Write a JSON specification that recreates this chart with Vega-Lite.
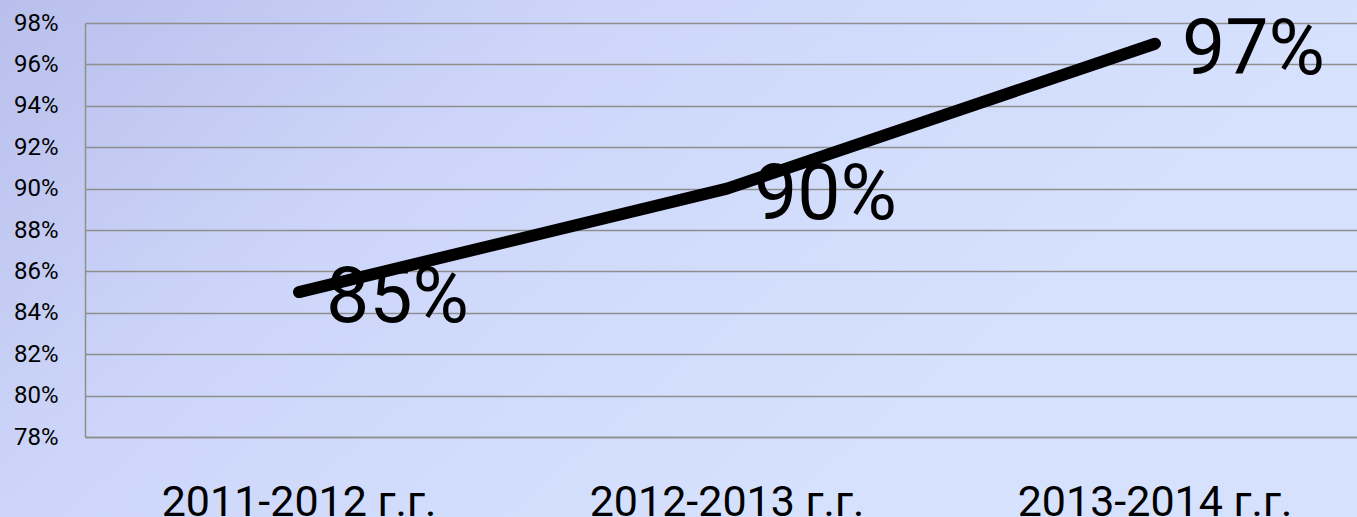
{
  "$schema": "https://vega.github.io/schema/vega-lite/v6.json",
  "width": 1357,
  "height": 517,
  "autosize": {"type": "none"},
  "padding": 0,
  "background": "#cdd6f9",
  "config": {"font": "Roboto"},
  "view": {
    "stroke": null,
    "fill": {
      "gradient": "linear",
      "x1": 0, "y1": 0, "x2": 1, "y2": 0.44,
      "stops": [
        {"offset": 0, "color": "#b8bfec"},
        {"offset": 0.37, "color": "#cdd6f9"},
        {"offset": 0.85, "color": "#d6e1fe"}
      ]
    }
  },
  "data": {
    "values": [
      {"year": "2011-2012 г.г.", "value": 0.85},
      {"year": "2012-2013 г.г.", "value": 0.90},
      {"year": "2013-2014 г.г.", "value": 0.97}
    ]
  },
  "layer": [
    {
      "mark": {"type": "line", "color": "black", "strokeWidth": 12, "strokeCap": "round", "strokeJoin": "round"},
      "encoding": {
        "x": {
          "field": "year", "type": "nominal", "sort": null,
          "scale": {"type": "band", "range": [85, 1369], "paddingInner": 0, "paddingOuter": 0},
          "axis": {
            "title": null, "orient": "bottom", "offset": -80, "labelPadding": 78,
            "labelBaseline": "alphabetic", "labelFontSize": 43, "labelFont": "Roboto",
            "labelColor": "black", "labelAngle": 0, "labelLimit": 500, "ticks": false,
            "domain": true, "domainColor": "#8e8e8e", "domainWidth": 1.5, "grid": false
          }
        },
        "y": {
          "field": "value", "type": "quantitative",
          "scale": {"domain": [0.78, 0.98], "range": [437, 23], "nice": false, "zero": false},
          "axis": {
            "title": null, "offset": -85,
            "values": [0.78, 0.80, 0.82, 0.84, 0.86, 0.88, 0.90, 0.92, 0.94, 0.96, 0.98],
            "format": ".0%", "labelFontSize": 24, "labelFont": "Roboto", "labelColor": "black",
            "labelPadding": 27, "ticks": false, "domainColor": "#8e8e8e", "domainWidth": 1.5,
            "grid": true, "gridColor": "#8e8e8e", "gridWidth": 1.5, "gridOpacity": 1
          }
        }
      }
    },
    {
      "mark": {"type": "text", "align": "left", "baseline": "alphabetic", "dx": 27, "dy": 30, "fontSize": 77, "font": "Roboto", "color": "black"},
      "encoding": {
        "x": {"field": "year", "type": "nominal", "sort": null},
        "y": {"field": "value", "type": "quantitative"},
        "text": {"field": "value", "type": "quantitative", "format": ".0%"}
      }
    }
  ]
}
